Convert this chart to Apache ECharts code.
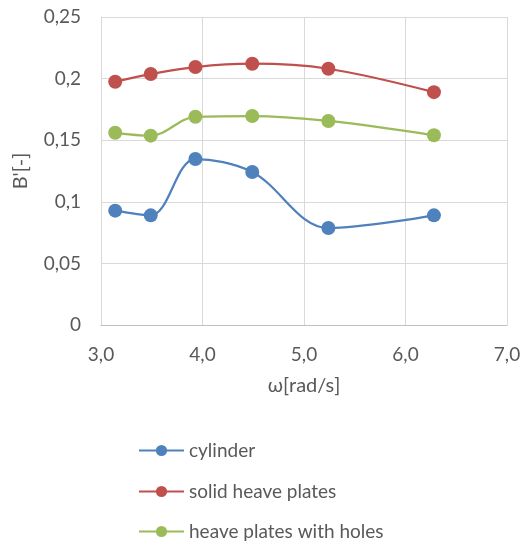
<!DOCTYPE html>
<html><head><meta charset="utf-8">
<script src="https://cdn.jsdelivr.net/npm/echarts@6/dist/echarts.min.js"></script>
<style>html,body{margin:0;padding:0;background:#fff}#c{width:531px;height:543px}</style>
</head><body><div id="c"></div>
<script>
const omega = [3.14, 3.49, 3.93, 4.49, 5.24, 6.28];
const cylinder = [0.0928, 0.089, 0.1347, 0.1242, 0.0787, 0.089];
const solidPlates = [0.1975, 0.2037, 0.2094, 0.2121, 0.208, 0.189];
const holedPlates = [0.156, 0.1537, 0.169, 0.1696, 0.1656, 0.154];
const seriesNames = ['cylinder', 'solid heave plates', 'heave plates with holes'];
const colors = ['#4F81BD', '#C0504D', '#9BBB59'];
const FONT = 'Lato';
const comma = v => String(v).replace('.', ',');
function mk(name, ys, color) {
  return {
    name, type: 'line', smooth: 0.35,
    data: omega.map((x, i) => [x, ys[i]]),
    symbol: 'circle', symbolSize: 14,
    itemStyle: { color },
    lineStyle: { color, width: 2.25 }
  };
}
const legendCenters = [452, 493, 533];
const chart = echarts.init(document.getElementById('c'));
chart.setOption({
  animation: false,
  textStyle: { fontFamily: FONT },
  grid: { left: 101, right: 24, top: 17, bottom: 218 },
  xAxis: {
    type: 'value', min: 3, max: 7, interval: 1,
    name: 'ω[rad/s]', nameLocation: 'middle', nameGap: 51,
    nameTextStyle: { color: '#595959', fontSize: 20, fontFamily: FONT },
    axisLine: { show: true, lineStyle: { color: '#BFBFBF' } },
    axisTick: { show: false },
    axisLabel: { color: '#595959', fontSize: 19, margin: 20, formatter: v => v.toFixed(1).replace('.', ',') },
    splitLine: { show: true, lineStyle: { color: '#D9D9D9' } }
  },
  yAxis: {
    type: 'value', min: 0, max: 0.25, interval: 0.05,
    name: "B'[-]", nameLocation: 'middle', nameGap: 70,
    nameTextStyle: { color: '#595959', fontSize: 20, fontFamily: FONT },
    axisLine: { show: true, lineStyle: { color: '#D9D9D9' } },
    axisTick: { show: false },
    axisLabel: { color: '#595959', fontSize: 19, margin: 20, formatter: v => comma(+v.toFixed(2)) },
    splitLine: { show: true, lineStyle: { color: '#D9D9D9' } }
  },
  legend: seriesNames.map((n, i) => ({
    orient: 'vertical', left: 138, top: legendCenters[i] - 11, padding: 0,
    itemWidth: 45, itemHeight: 14,
    textStyle: { color: '#595959', fontSize: 19, fontFamily: FONT },
    data: [n]
  })),
  series: [
    mk(seriesNames[0], cylinder, colors[0]),
    mk(seriesNames[1], solidPlates, colors[1]),
    mk(seriesNames[2], holedPlates, colors[2])
  ]
});
</script></body></html>
